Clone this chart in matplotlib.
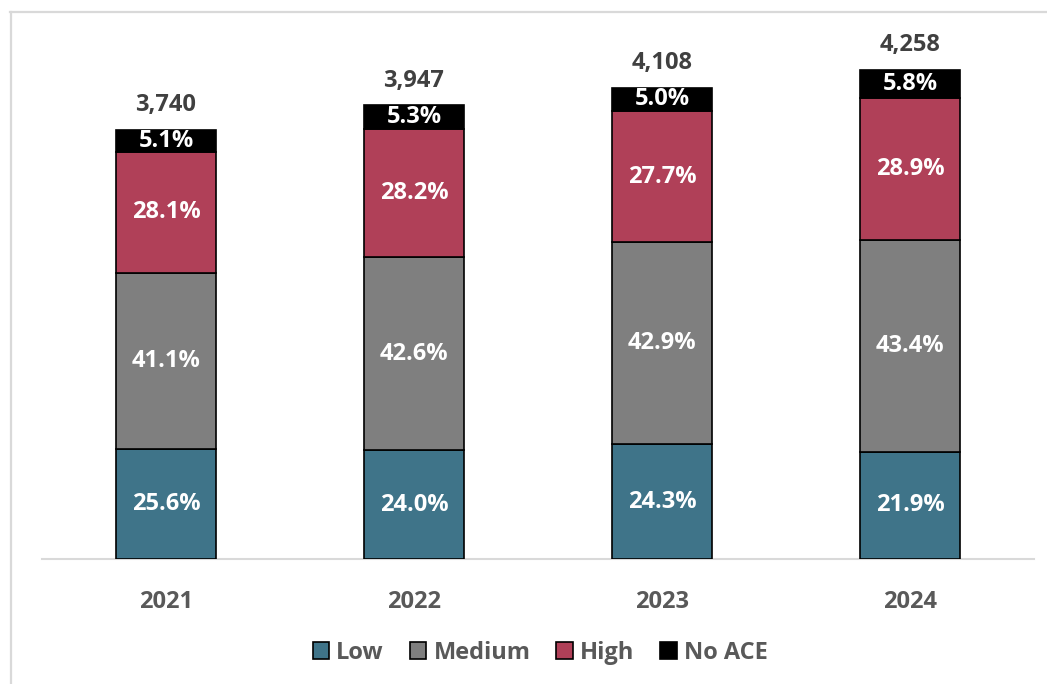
import numpy as np
import matplotlib.pyplot as plt
from matplotlib.lines import Line2D

years = ['2021', '2022', '2023', '2024']
totals = [3740, 3947, 4108, 4258]
low = [25.6, 24.0, 24.3, 21.9]
medium = [41.1, 42.6, 42.9, 43.4]
high = [28.1, 28.2, 27.7, 28.9]
no_ace = [5.1, 5.3, 5.0, 5.8]

series = [('Low', low, '#3F7489'), ('Medium', medium, '#7F7F7F'),
          ('High', high, '#B04058'), ('No ACE', no_ace, '#000000')]

plt.rcParams['font.family'] = ['Open Sans', 'DejaVu Sans']
plt.rcParams['font.weight'] = 'bold'
FS = 17

W, H = 1047, 684
fig = plt.figure(figsize=(W / 100, H / 100), dpi=100)
ax = fig.add_axes([42 / W, (H - 559) / H, (1034 - 42) / W, (559 - 12) / H])

x = np.arange(len(years))
tot = np.array(totals, dtype=float)
bottom = np.zeros(len(years))
for name, vals, col in series:
    v = np.array(vals)
    # segment heights scaled by the printed total
    h = tot * v / 100.0
    ax.bar(x, h, bottom=bottom, width=0.403, color=col, edgecolor='black',
           linewidth=1.2, label=name, zorder=3)
    for xi, b, hi, val in zip(x, bottom, h, vals):
        ax.text(xi, b + hi / 2, f'{val:.1f}%', ha='center', va='center',
                color='white', fontsize=FS, fontweight='bold', zorder=4)
    bottom += h

for xi, t, b in zip(x, totals, bottom):
    ax.annotate(f'{t:,}', (xi, b), xytext=(0, 9), textcoords='offset points',
                ha='center', va='bottom', fontsize=FS, fontweight='bold',
                color='#404040')

ax.set_xlim(-0.5, 3.5)
ax.set_ylim(0, 4258 * 547 / 489)
ax.set_xticks(x)
ax.set_xticklabels(years, fontsize=FS, fontweight='bold', color='#595959')
ax.tick_params(axis='x', length=0, pad=22)
ax.set_yticks([])
for s in ['top', 'right', 'left']:
    ax.spines[s].set_visible(False)
ax.spines['bottom'].set_color('#D9D9D9')
ax.spines['bottom'].set_linewidth(1.5)

leg = fig.legend(loc='center', bbox_to_anchor=(0.516, (H - 653) / H), ncol=4,
                 frameon=False, fontsize=FS, handlelength=0.7, handleheight=0.7,
                 handletextpad=0.3, columnspacing=1.1)
for t in leg.get_texts():
    t.set_color('#595959')
    t.set_fontweight('bold')

# outer chart border (left and top only visible)
fig.add_artist(Line2D([10.5 / W, 10.5 / W], [0, (H - 12) / H], color='#D9D9D9', lw=1.6))
fig.add_artist(Line2D([10 / W, 1], [(H - 12) / H, (H - 12) / H], color='#D9D9D9', lw=1.6))

fig.savefig('out.png', dpi=100)
